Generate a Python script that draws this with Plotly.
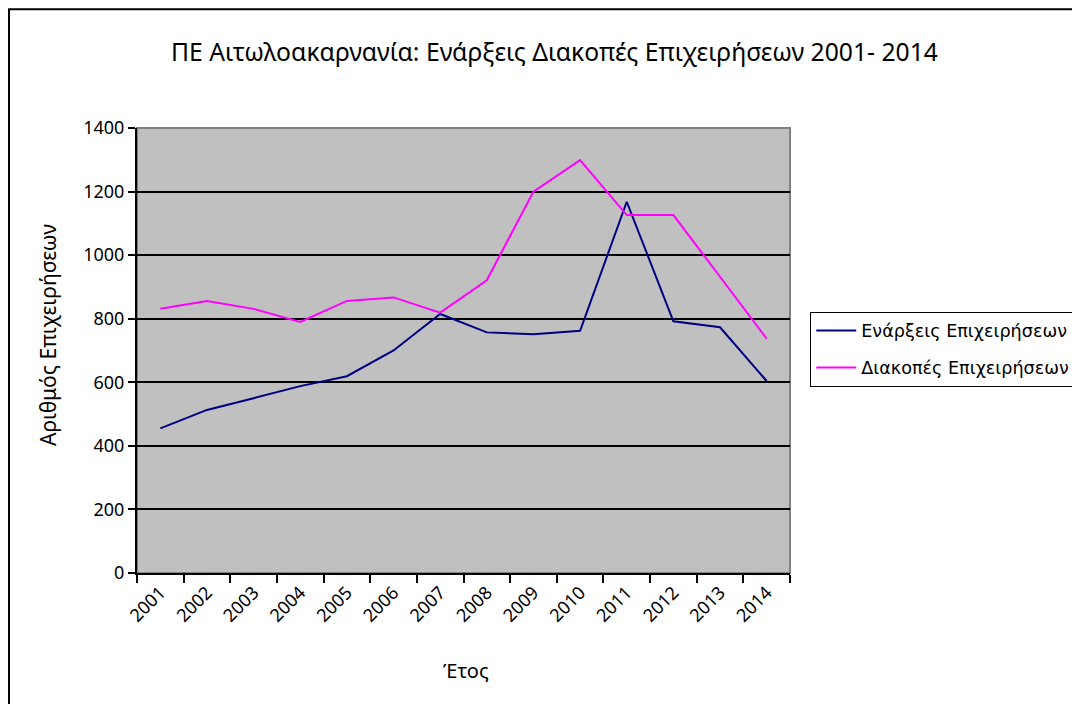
import plotly.graph_objects as go

years = ["2001", "2002", "2003", "2004", "2005", "2006", "2007",
         "2008", "2009", "2010", "2011", "2012", "2013", "2014"]
enarxeis = [455, 513, 550, 588, 619, 700, 815, 757, 751, 762, 1168, 792, 773, 604]
diakopes = [831, 856, 831, 790, 856, 867, 819, 921, 1200, 1299, 1126, 1126, 932, 737]

series_names = ["Ενάρξεις Επιχειρήσεων", "Διακοπές Επιχειρήσεων"]
series_colors = ["#000080", "#FF00FF"]

title_text = "ΠΕ Αιτωλοακαρνανία: Ενάρξεις Διακοπές Επιχειρήσεων 2001- 2014"
x_title = "Έτος"
y_title = "Αριθμός Επιχειρήσεων"

FONT = "Noto Sans"

fig = go.Figure()
for i, (name, vals, col) in enumerate(zip(series_names, [enarxeis, diakopes], series_colors)):
    fig.add_trace(go.Scatter(x=years, y=vals, mode="lines", name=name,
                             legendgroup=f"g{i}",
                             line=dict(color=col, width=2)))

fig.update_layout(
    width=1080, height=704,
    margin=dict(l=129, r=298, t=120, b=139, autoexpand=False),
    paper_bgcolor="white",
    plot_bgcolor="#C0C0C0",
    font=dict(family=FONT, color="black", size=18),
    title=dict(text=title_text, x=0.506, xanchor="center", y=0.9375, yanchor="middle",
               font=dict(family=FONT, size=24.7, color="black")),
    showlegend=True,
    legend=dict(x=1.031, xanchor="left", y=0.503, yanchor="middle",
                bgcolor="white", bordercolor="black", borderwidth=1,
                font=dict(family="DejaVu Sans", size=17.6, color="black"),
                traceorder="grouped", tracegroupgap=11, itemwidth=40),
)

fig.update_xaxes(
    type="category", range=[-0.5, 13.5],
    tickson="boundaries", ticks="outside", ticklen=8,
    tickcolor="black", tickwidth=1.5, tickangle=-45,
    showline=True, linecolor="black", linewidth=2,
    showgrid=False, zeroline=False,
    tickfont=dict(family=FONT, size=18),
)
fig.update_yaxes(
    range=[0, 1400], dtick=200, ticks="outside", ticklen=7,
    tickcolor="black", tickwidth=1.5,
    showline=True, linecolor="black", linewidth=2,
    showgrid=True, gridcolor="black", gridwidth=2, zeroline=False,
    tickfont=dict(family=FONT, size=18),
)

# axis titles
fig.add_annotation(text=y_title, xref="paper", yref="paper", x=-0.1363, y=0.535,
                   xanchor="center", yanchor="middle", textangle=-90, showarrow=False,
                   font=dict(family=FONT, size=21, color="black"))
fig.add_annotation(text=x_title, xref="paper", yref="paper", x=0.504, y=-0.220,
                   xanchor="center", yanchor="middle", showarrow=False,
                   font=dict(family=FONT, size=20, color="black"))

# plot area frame (gray top/right)
fig.add_shape(type="rect", xref="x domain", yref="y domain", x0=0, x1=1, y0=0, y1=1,
              line=dict(color="#808080", width=2), layer="below")
# outer chart border (cropped at right/bottom)
fig.add_shape(type="rect", xref="paper", yref="paper",
              x0=-0.196, x1=2.0, y0=-2.0, y1=1.267,
              line=dict(color="black", width=2))

fig.write_html("out.html")
